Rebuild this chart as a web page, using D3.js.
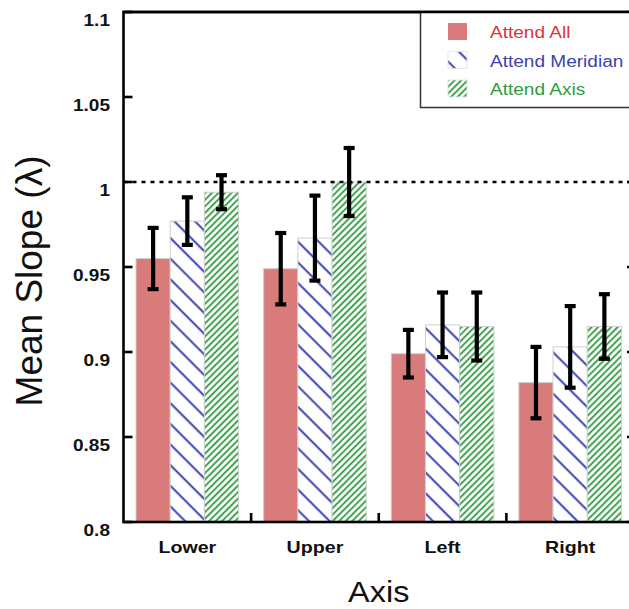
<!DOCTYPE html>
<html>
<head>
<meta charset="utf-8">
<script src="https://cdn.jsdelivr.net/npm/d3@7"></script>
<style>
  html, body { margin: 0; padding: 0; background: #fff; }
  svg { display: block; }
  text { font-family: "Liberation Sans", Arial, Helvetica, sans-serif; }
</style>
</head>
<body>
<svg id="chart" width="629" height="609"></svg>
<script>
// ---------------- data ----------------
const categories = ["Lower", "Upper", "Left", "Right"];
const seriesNames = ["Attend All", "Attend Meridian", "Attend Axis"];
const attendAll      = [0.955, 0.949, 0.899, 0.882];
const attendAllErr   = [0.018, 0.021, 0.014, 0.021];
const attendMeridian = [0.977, 0.967, 0.916, 0.903];
const attendMeridianErr = [0.014, 0.025, 0.019, 0.024];
const attendAxis     = [0.994, 1.000, 0.915, 0.915];
const attendAxisErr  = [0.010, 0.020, 0.020, 0.019];
const yTicks = [0.8, 0.85, 0.9, 0.95, 1, 1.05, 1.1];
const yTickLabels = ["0.8", "0.85", "0.9", "0.95", "1", "1.05", "1.1"];
const referenceValue = 1;

const seriesValues = [attendAll, attendMeridian, attendAxis];
const seriesErrors = [attendAllErr, attendMeridianErr, attendAxisErr];

// ---------------- layout ----------------
const svg = d3.select("#chart");
const pLeft = 123.5, pRight = 634, pTop = 12, pBottom = 522;

const y = d3.scaleLinear().domain([0.8, 1.1]).range([pBottom, pTop]);
const x = d3.scaleBand().domain(categories).range([pLeft, pRight])
  .paddingInner(0.196).paddingOuter(0.098);
const xs = d3.scaleBand().domain(seriesNames).range([0, x.bandwidth()]);

const fills = ["#d97b7a", "url(#hatchBlue)", "url(#hatchGreen)"];
const textColors = ["#d9343b", "#3b44ae", "#2f9b3d"];

// ---------------- patterns ----------------
const defs = svg.append("defs");
const pb = defs.append("pattern").attr("id", "hatchBlue")
  .attr("patternUnits", "userSpaceOnUse")
  .attr("width", 14.6).attr("height", 14.6)
  .attr("patternTransform", "translate(0,4) rotate(45)");
pb.append("rect").attr("width", 14.6).attr("height", 14.6).attr("fill", "#fff");
pb.append("line").attr("x1", 0).attr("x2", 14.6).attr("y1", 1.2).attr("y2", 1.2)
  .attr("stroke", "#3a43b6").attr("stroke-width", 2);

const pg = defs.append("pattern").attr("id", "hatchGreen")
  .attr("patternUnits", "userSpaceOnUse")
  .attr("width", 4.6).attr("height", 4.6)
  .attr("patternTransform", "rotate(-45)");
pg.append("rect").attr("width", 4.6).attr("height", 4.6).attr("fill", "#fff");
pg.append("line").attr("x1", 0).attr("x2", 4.6).attr("y1", 1.1).attr("y2", 1.1)
  .attr("stroke", "#2f9a40").attr("stroke-width", 1.8);

// ---------------- bars ----------------
const barData = [];
categories.forEach((c, i) => {
  seriesNames.forEach((s, j) => {
    barData.push({ c, s, j, v: seriesValues[j][i], e: seriesErrors[j][i] });
  });
});

const bars = svg.append("g");
bars.selectAll("rect").data(barData).enter().append("rect")
  .attr("x", d => x(d.c) + xs(d.s))
  .attr("y", d => y(d.v))
  .attr("width", xs.bandwidth())
  .attr("height", d => y(0.8) - y(d.v))
  .attr("fill", d => fills[d.j])
  .attr("stroke", "#cfcfcf")
  .attr("stroke-width", 1);

// ---------------- reference dotted line ----------------
svg.append("line")
  .attr("x1", pLeft).attr("x2", pRight)
  .attr("y1", y(referenceValue)).attr("y2", y(referenceValue))
  .attr("stroke", "#000").attr("stroke-width", 2.5)
  .attr("stroke-dasharray", "4,5");

// ---------------- error bars ----------------
const eg = svg.append("g").attr("stroke", "#000").attr("stroke-width", 4.2);
const cap = 5.5;
barData.forEach(d => {
  const cx = x(d.c) + xs(d.s) + xs.bandwidth() / 2;
  eg.append("line").attr("x1", cx).attr("x2", cx)
    .attr("y1", y(d.v + d.e)).attr("y2", y(d.v - d.e));
  [d.v + d.e, d.v - d.e].forEach(v => {
    eg.append("line").attr("x1", cx - cap).attr("x2", cx + cap)
      .attr("y1", y(v)).attr("y2", y(v));
  });
});

// ---------------- axes / frame ----------------
const frame = svg.append("g").attr("stroke", "#000").attr("stroke-width", 2.6).attr("fill", "none");
frame.append("rect").attr("x", pLeft).attr("y", pTop)
  .attr("width", pRight - pLeft).attr("height", pBottom - pTop);

yTicks.forEach(t => {
  frame.append("line").attr("x1", pLeft).attr("x2", pLeft + 9)
    .attr("y1", y(t)).attr("y2", y(t));
  frame.append("line").attr("x1", pRight - 7).attr("x2", pRight)
    .attr("y1", y(t)).attr("y2", y(t));
});
categories.forEach((c, i) => {
  if (i === 0) return;
  const bx = x(c) - x.step() * x.paddingInner() / 2;
  frame.append("line").attr("x1", bx).attr("x2", bx)
    .attr("y1", pBottom).attr("y2", pBottom - 9);
});

yTicks.forEach((t, i) => {
  svg.append("text")
    .attr("transform", `translate(110,${y(t) + 14}) scale(1.12,1)`)
    .attr("text-anchor", "end")
    .attr("font-size", 17).attr("font-weight", "bold").attr("fill", "#111")
    .text(yTickLabels[i]);
});

categories.forEach(c => {
  svg.append("text")
    .attr("transform", `translate(${x(c) + x.bandwidth() / 2},553) scale(1.19,1)`)
    .attr("text-anchor", "middle")
    .attr("font-size", 16.5).attr("font-weight", "bold").attr("fill", "#111")
    .text(c);
});

svg.append("text")
  .attr("transform", `translate(${(pLeft + pRight) / 2},602) scale(1.12,1)`)
  .attr("text-anchor", "middle")
  .attr("font-size", 29).attr("fill", "#111")
  .text("Axis");

svg.append("text")
  .attr("transform", "translate(42,281) rotate(-90)")
  .attr("text-anchor", "middle")
  .attr("font-size", 37).attr("fill", "#111")
  .text("Mean Slope (λ)");

// ---------------- legend ----------------
const lg = svg.append("g");
lg.append("rect").attr("x", 420.5).attr("y", pTop).attr("width", 230).attr("height", 95.5)
  .attr("fill", "#fff").attr("stroke", "#333").attr("stroke-width", 1.5);
svg.append("line").attr("x1", pLeft).attr("x2", pRight).attr("y1", pTop).attr("y2", pTop)
  .attr("stroke", "#000").attr("stroke-width", 2.6);
seriesNames.forEach((s, j) => {
  const ry = 23 + j * 28.5;
  lg.append("rect").attr("x", 448).attr("y", ry).attr("width", 19).attr("height", 17)
    .attr("fill", fills[j]).attr("stroke", j === 0 ? "none" : "#e2e2e2").attr("stroke-width", 0.8);
  lg.append("text")
    .attr("transform", `translate(490,${ry + 15}) scale(1.19,1)`)
    .attr("font-size", 16).attr("fill", textColors[j])
    .text(s);
});
</script>
</body>
</html>
